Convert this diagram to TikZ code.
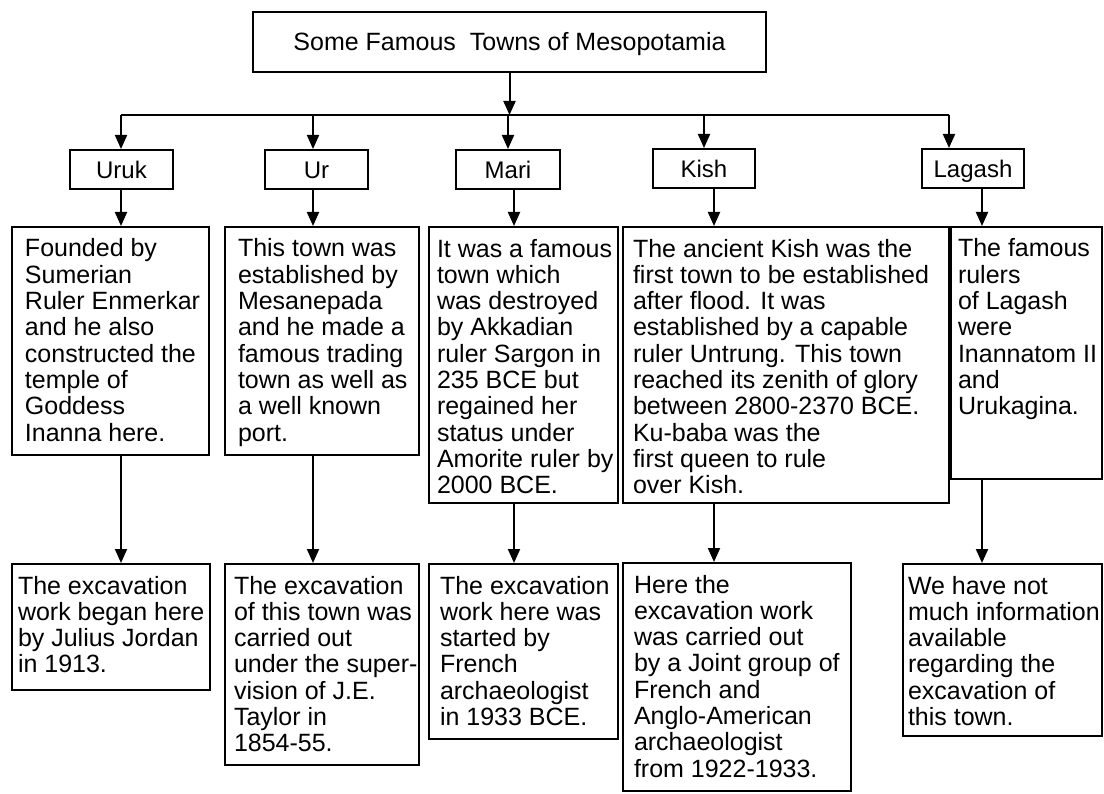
\documentclass[tikz,border=0pt]{standalone}
\usepackage{fontspec}
\setmainfont{Liberation Sans}
\usetikzlibrary{arrows.meta,calc}

% a text box given by its corners (x1,y1)-(x2,y2), left padding and text
\newcommand\txtbox[7]{%
  \node[tbox] (#1) at (#2,#3)
    {\parbox[c][\dimexpr #5pt-#3pt\relax][t]{\dimexpr #4pt-#2pt\relax}{%
      \fontsize{25}{26.3}\selectfont\raggedright\leftskip=#6pt\relax
      \rule{0pt}{30pt}#7}};}

\begin{document}
\begin{tikzpicture}[x=1pt,y=-1pt,
  tbox/.style={draw, line width=2pt, inner sep=0pt, anchor=north west},
  lbox/.style={draw, line width=2pt, inner sep=0pt, anchor=north west,
    align=center, font=\fontsize{24}{26}\selectfont,
    text height=17.2pt, text depth=0pt},
  arr/.style={line width=2pt, -{Triangle[length=14pt,width=12pt]}},
  bus/.style={line width=2pt}]
\useasboundingbox (0,0) rectangle (1104,794);

% heading
\node[lbox, font=\fontsize{25}{26}\selectfont, text height=18pt,
  minimum width=513pt, minimum height=60pt] (title) at (252,11)
  {Some Famous\ \ Towns of Mesopotamia};

% town names
\node[lbox, minimum width=103pt, minimum height=39pt] (uruk)   at (69,149)  {Uruk};
\node[lbox, minimum width=103pt, minimum height=39pt] (ur)     at (264,149) {Ur};
\node[lbox, minimum width=104pt, minimum height=39pt] (mari)   at (455,149) {Mari};
\node[lbox, minimum width=102pt, minimum height=39pt] (kish)   at (652,148) {Kish};
\node[lbox, minimum width=102pt, minimum height=39pt] (lagash) at (921,148) {Lagash};

% descriptions
\txtbox{urukA}{11}{226}{208}{454}{13}{Founded by\\Sumerian\\Ruler Enmerkar\\and he also\\constructed the\\temple of\\Goddess\\Inanna here.}
\txtbox{urA}{224}{226}{418}{454}{13}{This town was\\established by\\Mesanepada\\and he made a\\famous trading\\town as well as\\a well known\\port.}
\txtbox{mariA}{428}{226}{617}{502}{8}{It was a famous\\town which\\was destroyed\\by Akkadian\\ruler Sargon in\\235 BCE but\\regained her\\status under\\Amorite ruler by\\2000 BCE.}
\txtbox{kishA}{622}{226}{948}{502}{10}{The ancient Kish was the\\first town to be established\\after flood. It was\\established by a capable\\ruler Untrung. This town\\reached its zenith of glory\\between 2800-2370 BCE.\\Ku-baba was the\\first queen to rule\\over Kish.}
\txtbox{lagashA}{950}{226}{1101}{478}{7}{The famous\\rulers\\of Lagash\\were\\Inannatom II\\and\\Urukagina.}

% excavations
\txtbox{urukB}{11}{563}{209}{689}{6}{The excavation\\work began here\\by Julius Jordan\\in 1913.}
\txtbox{urB}{224}{563}{418}{764}{9}{The excavation\\of this town was\\carried out\\under the super-\\vision of J.E.\\Taylor in\\1854-55.}
\txtbox{mariB}{428}{563}{617}{738}{11}{The excavation\\work here was\\started by\\French\\archaeologist\\in 1933 BCE.}
\txtbox{kishB}{622}{562}{850}{790}{11}{Here the\\excavation work\\was carried out\\by a Joint group of\\French and\\Anglo-American\\archaeologist\\from 1922-1933.}
\txtbox{lagashB}{902}{563}{1101}{735}{5}{We have not\\much information\\available\\regarding the\\excavation of\\this town.}

% bus points and column guides
\coordinate (b1) at (121,115);
\coordinate (b2) at (313,115);
\coordinate (b3) at (508,115);
\coordinate (b4) at (704,115);
\coordinate (b5) at (949,115);
\coordinate (c1) at (121,0);
\coordinate (c2) at (313,0);
\coordinate (c3) at (514,0);
\coordinate (c4) at (714,0);
\coordinate (c5) at (982,0);

\draw[arr] (title.south) -- (title.south |- b3);
\draw[bus] (b1) -- (b5);
\draw[arr] (b1) -- (b1 |- uruk.north);
\draw[arr] (b2) -- (b2 |- ur.north);
\draw[arr] (b3) -- (b3 |- mari.north);
\draw[arr] (b4) -- (b4 |- kish.north);
\draw[arr] (b5) -- (b5 |- lagash.north);

\draw[arr] (uruk.south -| c1)   -- (urukA.north -| c1);
\draw[arr] (ur.south -| c2)     -- (urA.north -| c2);
\draw[arr] (mari.south -| c3)   -- (mariA.north -| c3);
\draw[arr] (kish.south -| c4)   -- (kishA.north -| c4);
\draw[arr] (lagash.south -| c5) -- (lagashA.north -| c5);

\draw[arr] (urukA.south -| c1)   -- (urukB.north -| c1);
\draw[arr] (urA.south -| c2)     -- (urB.north -| c2);
\draw[arr] (mariA.south -| c3)   -- (mariB.north -| c3);
\draw[arr] (kishA.south -| c4)   -- (kishB.north -| c4);
\draw[arr] (lagashA.south -| c5) -- (lagashB.north -| c5);
\end{tikzpicture}
\end{document}
